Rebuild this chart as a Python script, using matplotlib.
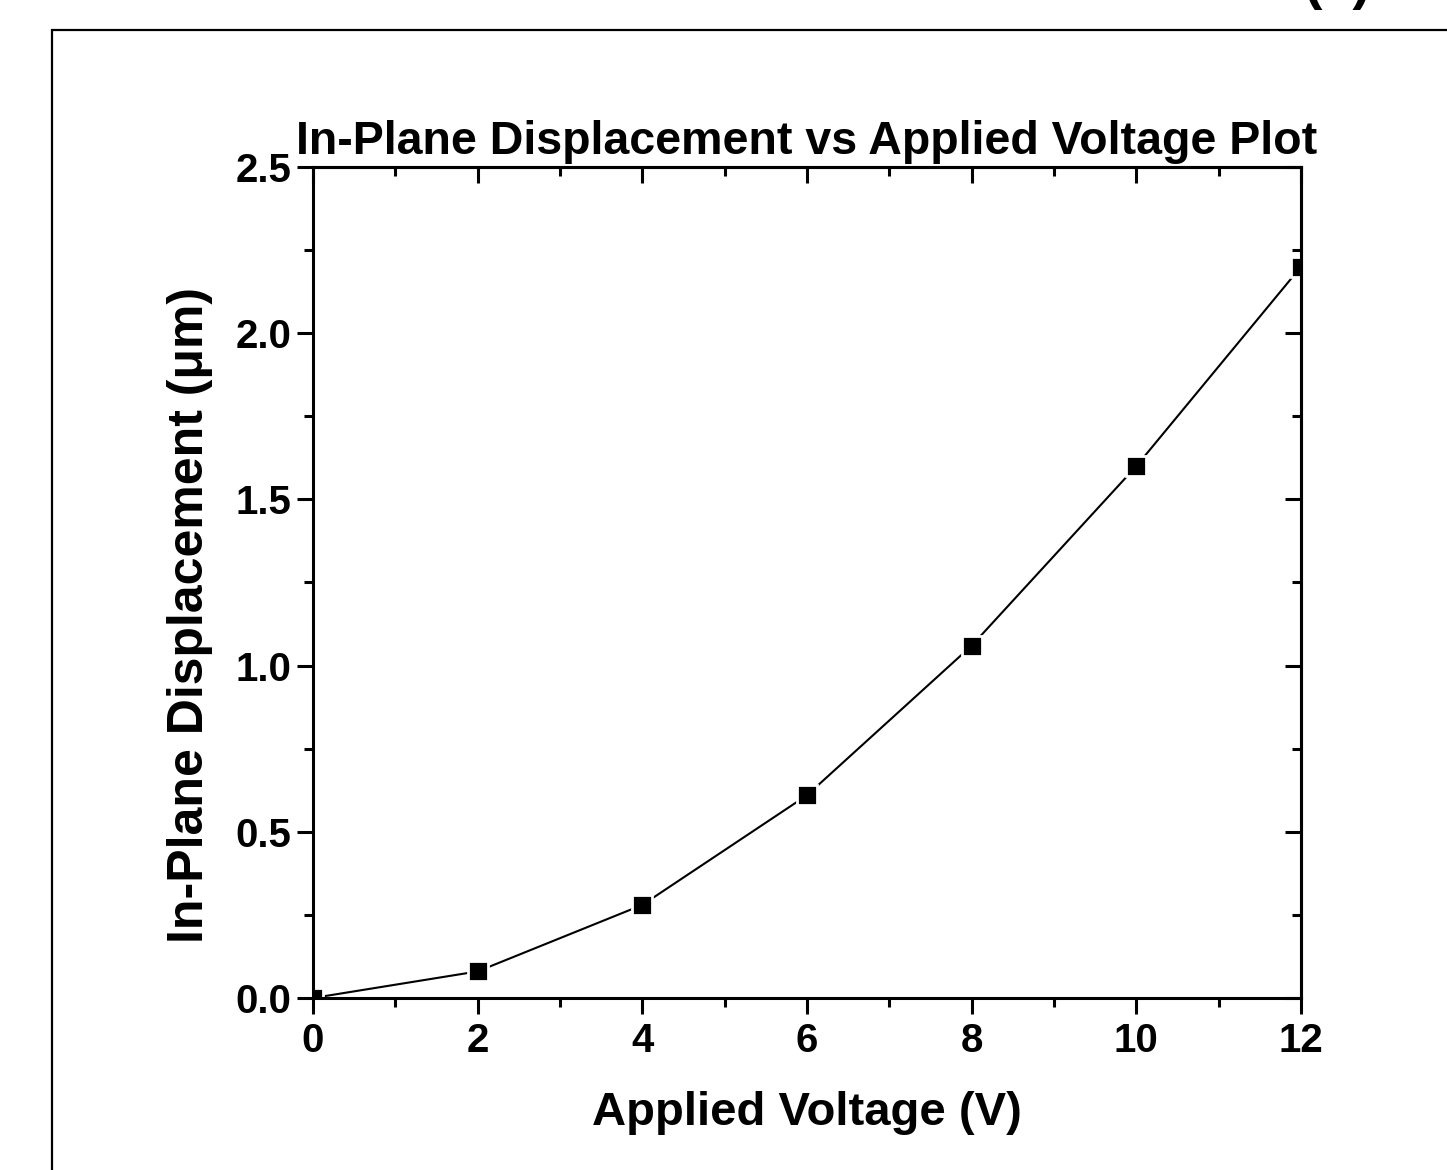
import matplotlib
matplotlib.use("Agg")
import matplotlib.pyplot as plt
from matplotlib.patches import Rectangle
from matplotlib.ticker import MultipleLocator

# Datos
voltaje = [0, 2, 4, 6, 8, 10, 12]
desplazamiento = [0.0, 0.08, 0.28, 0.61, 1.06, 1.60, 2.20]

x_ticks = [0, 2, 4, 6, 8, 10, 12]
y_ticks = [0.0, 0.5, 1.0, 1.5, 2.0, 2.5]

plt.rcParams["font.family"] = ["Liberation Sans", "DejaVu Sans"]
plt.rcParams["font.weight"] = "bold"

fig = plt.figure(figsize=(14.47, 11.7), dpi=100)
ax = fig.add_axes([313 / 1447, 1 - 998 / 1170, 988 / 1447, 831 / 1170])

# marco exterior
fig.patches.append(Rectangle((52 / 1447, -0.1), 1.2, 0.1 + 1 - 30 / 1170,
                             transform=fig.transFigure, fill=False,
                             edgecolor="black", linewidth=1.6))
fig.text(0.924, 1.002, "(a)", ha="center", va="baseline", fontsize=40,
         fontweight="bold")

ax.plot(voltaje, desplazamiento, color="black", linewidth=1.5,
        marker="s", markersize=14, markerfacecolor="black",
        markeredgecolor="white", markeredgewidth=2)

ax.set_xlim(0, 12)
ax.set_ylim(0, 2.5)
ax.set_xticks(x_ticks)
ax.set_yticks(y_ticks)
ax.set_xticklabels([str(v) for v in x_ticks])
ax.set_yticklabels([f"{v:.1f}" for v in y_ticks])
ax.xaxis.set_minor_locator(MultipleLocator(1))
ax.yaxis.set_minor_locator(MultipleLocator(0.25))

for s in ax.spines.values():
    s.set_linewidth(2.2)

ax.tick_params(which="both", width=2.2, labelsize=29)
ax.tick_params(which="major", length=11.5)
ax.tick_params(which="minor", length=6.5)
ax.tick_params(axis="x", which="both", bottom=True, top=False, direction="out", pad=6)
ax.tick_params(axis="y", which="both", left=True, right=False, direction="out", pad=4)

# ticks interiores arriba y a la derecha
sec_x = ax.secondary_xaxis("top")
sec_x.set_xticks(x_ticks)
sec_x.xaxis.set_minor_locator(MultipleLocator(1))
sec_x.tick_params(which="both", direction="in", width=2.2, labeltop=False)
sec_x.tick_params(which="major", length=11.5)
sec_x.tick_params(which="minor", length=6.5)
sec_x.spines["top"].set_linewidth(2.2)

sec_y = ax.secondary_yaxis("right")
sec_y.set_yticks(y_ticks)
sec_y.yaxis.set_minor_locator(MultipleLocator(0.25))
sec_y.tick_params(which="both", direction="in", width=2.2, labelright=False)
sec_y.tick_params(which="major", length=11.5)
sec_y.tick_params(which="minor", length=6.5)
sec_y.spines["right"].set_linewidth(2.2)

ax.set_title("In-Plane Displacement vs Applied Voltage Plot", fontsize=33.5,
             fontweight="bold", pad=9)
ax.set_xlabel("Applied Voltage (V)", fontsize=34, fontweight="bold", labelpad=22)
ax.set_ylabel("In-Plane Displacement (\u03bcm)", fontsize=36, fontweight="bold")
ax.yaxis.set_label_coords(-0.101, 0.461)

fig.savefig("out.png", dpi=100)
